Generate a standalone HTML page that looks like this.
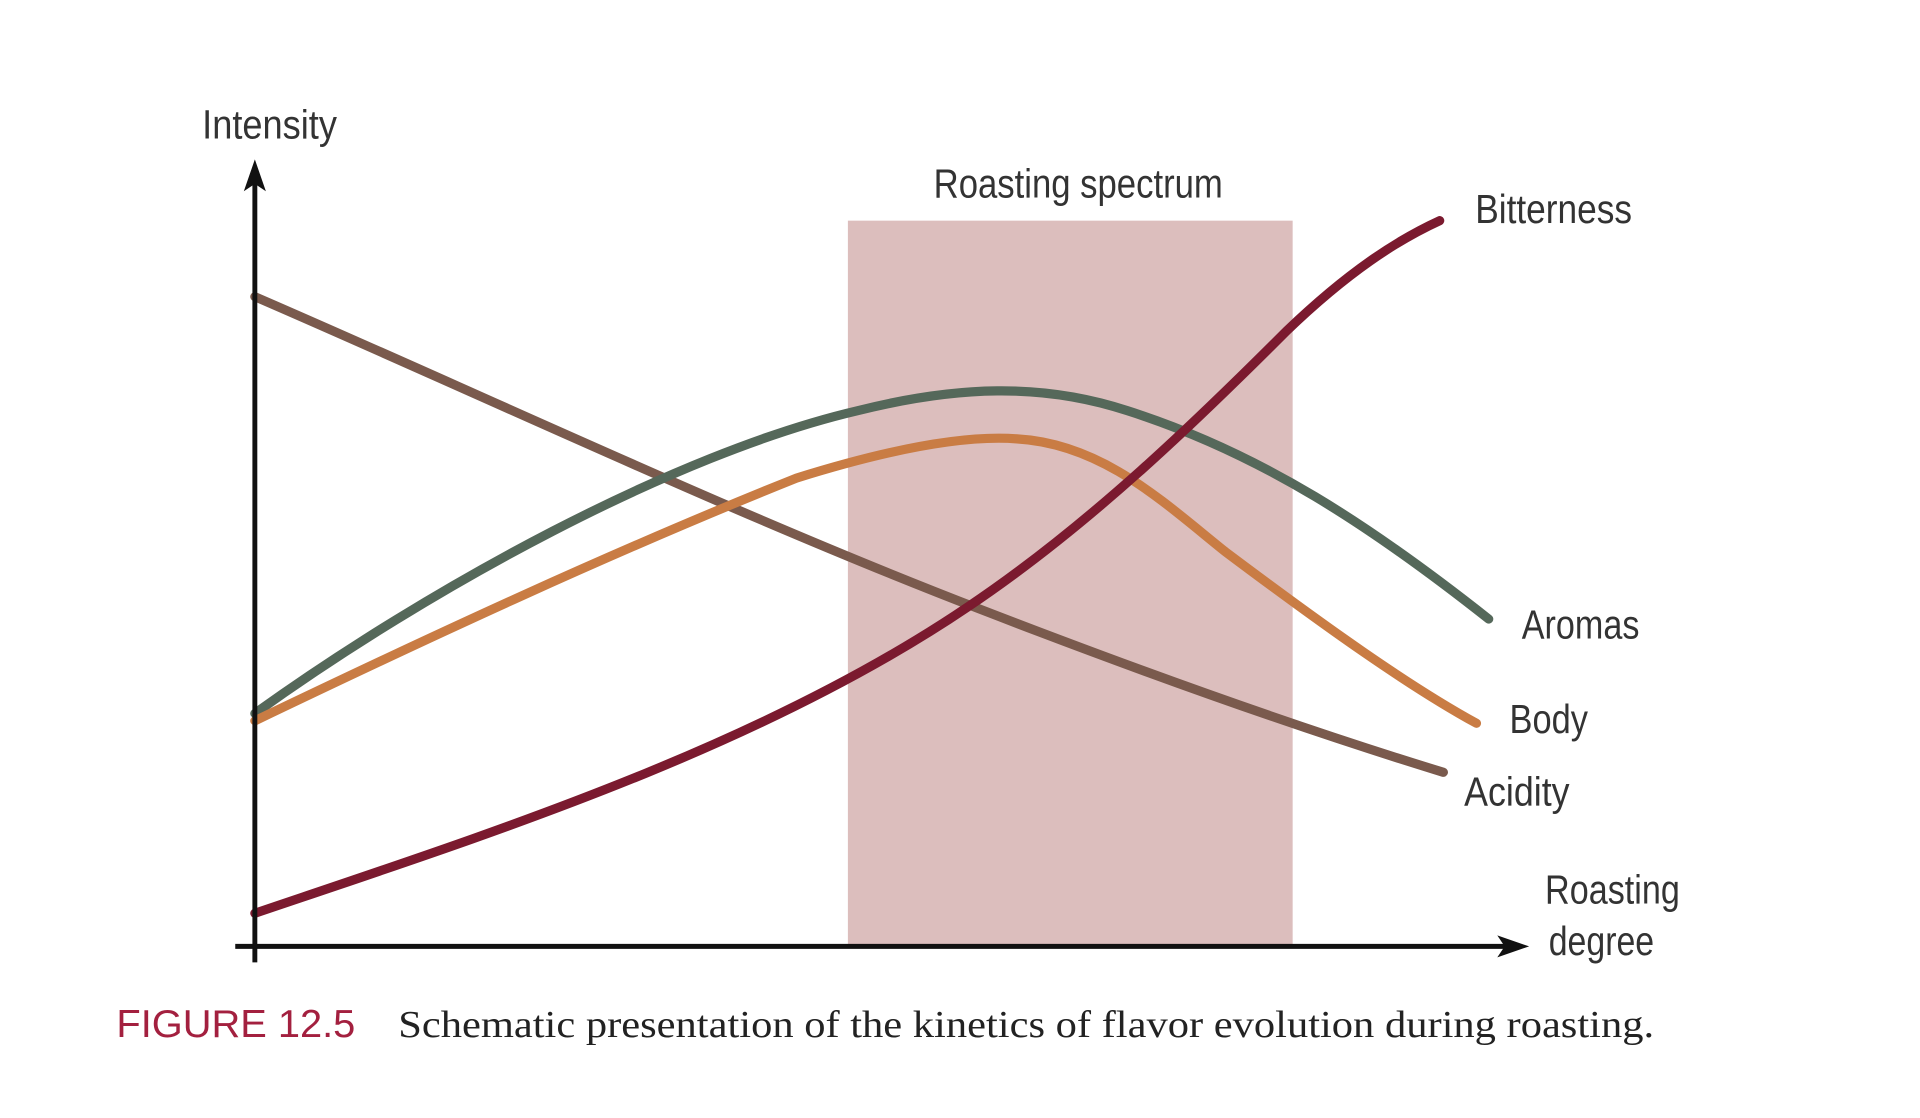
<!DOCTYPE html>
<html><head><meta charset="utf-8"><style>
html,body{margin:0;padding:0;background:#fff;}
svg{display:block;}
.l{font-family:"Liberation Sans Narrow","Liberation Sans",sans-serif;font-size:33px;fill:#333;}
</style></head><body>
<svg width="1920" height="1118" viewBox="0 0 1567 912" preserveAspectRatio="none" xmlns="http://www.w3.org/2000/svg">
<rect x="692" y="180" width="363" height="592" fill="#dcbebd"/>
<g fill="none" stroke-width="7.5" stroke-linecap="round">
<path d="M208,242 C400,325 600,420 800,497 C950,555 1080,600 1178,630" stroke="#7a5a4d"/>
<path d="M208,582 C350,480 550,370 700,335 C780,315 850,312 920,335 C1030,370 1120,430 1215,505" stroke="#55685a"/>
<path d="M208,588 C350,520 500,450 650,390 C730,365 790,355 830,358 C900,362 950,410 1000,450 C1080,510 1150,560 1205,590" stroke="#c97c44"/>
<path d="M208,745 C400,680 620,610 790,495 C890,428 980,340 1050,270 C1100,222 1140,196 1175,180" stroke="#7b1a2f"/>
</g>
<g stroke="#111" stroke-width="4">
<line x1="208" y1="785" x2="208" y2="145"/>
<line x1="192" y1="772" x2="1232" y2="772"/>
</g>
<polygon points="208,130 199,156 208,150 217,156" fill="#111"/>
<polygon points="1248,772 1222,763 1228,772 1222,781" fill="#111"/>
<text class="l" x="165" y="113" textLength="110" lengthAdjust="spacingAndGlyphs">Intensity</text>
<text class="l" x="762" y="161" textLength="236" lengthAdjust="spacingAndGlyphs">Roasting spectrum</text>
<text class="l" x="1204" y="182" textLength="128" lengthAdjust="spacingAndGlyphs">Bitterness</text>
<text class="l" x="1242" y="521" textLength="96" lengthAdjust="spacingAndGlyphs">Aromas</text>
<text class="l" x="1232" y="598" textLength="64" lengthAdjust="spacingAndGlyphs">Body</text>
<text class="l" x="1195" y="657" textLength="86" lengthAdjust="spacingAndGlyphs">Acidity</text>
<text class="l" x="1261" y="737" textLength="110" lengthAdjust="spacingAndGlyphs">Roasting</text>
<text class="l" x="1264" y="779" textLength="86" lengthAdjust="spacingAndGlyphs">degree</text>
<text x="95" y="846" font-family="Liberation Sans Narrow,Liberation Sans,sans-serif" font-size="32" fill="#a3203f" textLength="195" lengthAdjust="spacingAndGlyphs">FIGURE 12.5</text>
<text x="325" y="846" font-family="Liberation Serif,serif" font-size="31" fill="#222" textLength="1025" lengthAdjust="spacingAndGlyphs">Schematic presentation of the kinetics of flavor evolution during roasting.</text>
</svg>
</body></html>
